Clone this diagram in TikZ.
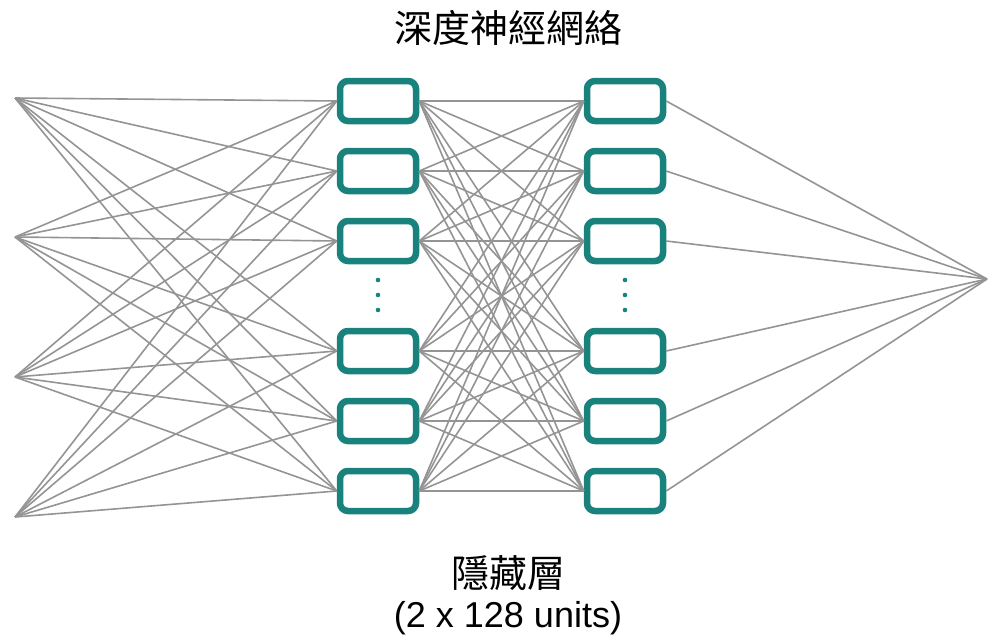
\documentclass[tikz,border=0pt]{standalone}
\usepackage{fontspec}
\setmainfont{Liberation Sans}
\newfontfamily\cjk{Noto Sans CJK TC}
\definecolor{tealbox}{RGB}{26,130,124}
\tikzset{
  unit/.style={draw=tealbox,line width=6.5pt,rounded corners=8pt,minimum width=76pt,minimum height=40pt,inner sep=0pt,fill=white},
  link/.style={draw=black!42,line width=1.6pt},
}
\begin{document}
\begin{tikzpicture}[x=1pt,y=-1pt]
        \useasboundingbox (0,0) rectangle (988,637);
        % input and output points
        \foreach \i/\y in {1/98,2/237,3/377,4/517}
            \coordinate (in\i) at (15,\y);
        \coordinate (out) at (987,279);
        % two hidden layers
        \foreach \j/\y in {1/101,2/171,3/241,4/351,5/421,6/491}{
            \node[unit] (a\j) at (378,\y) {};
            \node[unit] (b\j) at (625,\y) {};
        }
        \foreach \x in {378,625}
            \foreach \y in {280,295,310}
                \fill[tealbox] (\x,\y) circle (2.3pt);
        % connections
        \foreach \i in {1,...,4}
            \foreach \j in {1,...,6}
                \draw[link] (in\i) -- (a\j.west);
        \foreach \j in {1,...,6}
            \foreach \k in {1,...,6}
                \draw[link] (a\j.east) -- (b\k.west);
        \foreach \k in {1,...,6}
            \draw[link] (b\k.east) -- (out);
        % labels
        \node (title) at (508,28) {\cjk\fontsize{38}{42}\selectfont 深度神經網絡};
        \node (hidden) at (508,573) {\cjk\fontsize{38}{42}\selectfont 隱藏層};
        \node (units) at (508,618) {\fontsize{36}{40}\selectfont (2 x 128 units)};
    \end{tikzpicture}
\end{document}
